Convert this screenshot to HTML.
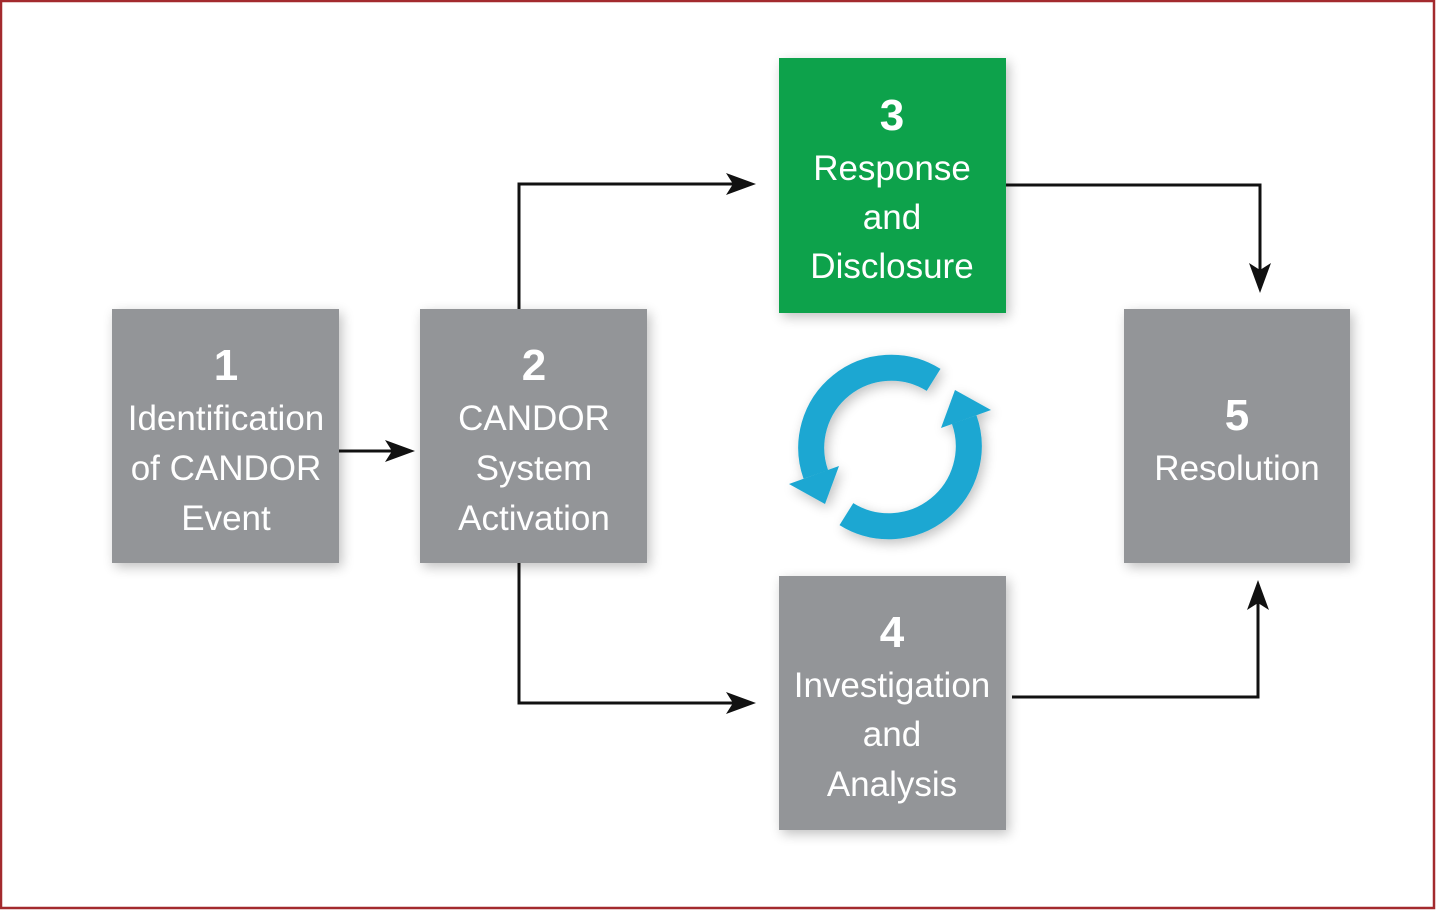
<!DOCTYPE html>
<html><head><meta charset="utf-8"><style>
body{margin:0;width:1436px;height:910px;background:#fff;overflow:hidden}
</style></head><body>
<svg width="1436" height="910" xmlns="http://www.w3.org/2000/svg" font-family="'Liberation Sans',sans-serif">
<defs>
<filter id="s" x="-20%" y="-20%" width="140%" height="140%"><feGaussianBlur in="SourceAlpha" stdDeviation="6"/><feOffset dx="3" dy="4"/><feComponentTransfer><feFuncA type="linear" slope="0.25"/></feComponentTransfer><feMerge><feMergeNode/><feMergeNode in="SourceGraphic"/></feMerge></filter>
</defs>
<rect x="1" y="1" width="1433" height="907" fill="none" stroke="#a32a2e" stroke-width="2.5"/>
<g fill="#939598" filter="url(#s)">
<rect x="112" y="309" width="227" height="254"/>
<rect x="420" y="309" width="227" height="254"/>
<rect x="779" y="58" width="227" height="255" fill="#0ba24b"/>
<rect x="779" y="576" width="227" height="254"/>
<rect x="1124" y="309" width="226" height="254"/>
</g>
<g fill="none" stroke="#111" stroke-width="3">
<path d="M339,451 H395"/>
<path d="M519,309 V184 H735"/>
<path d="M519,563 V703 H735"/>
<path d="M1006,185 H1260 V272"/>
<path d="M1012,697 H1258 V602"/>
</g>
<g fill="#111">
<path d="M415,451 L385,440 L392,451 L385,462Z"/>
<path d="M756,184 L726,173 L733,184 L726,195Z"/>
<path d="M756,703 L726,692 L733,703 L726,714Z"/>
<path d="M1260,293 L1249,263 L1260,270 L1271,263Z"/>
<path d="M1258,580 L1247,610 L1258,603 L1269,610Z"/>
</g>
<g filter="url(#s)">
<g id="h">
<path d="M933.6,379.9 A80,80 0 0 0 815.8,474.4" fill="none" stroke="#1aa7d2" stroke-width="26"/>
<path d="M839,466 L789,484 L825,504Z" fill="#1aa7d2"/>
</g>
<use href="#h" transform="rotate(180 890 447)"/>
</g>
<g fill="#fff" text-anchor="middle" font-size="35">
<text x="226" y="380" font-size="44" font-weight="bold">1</text>
<text x="226" y="430">Identification</text>
<text x="226" y="480">of CANDOR</text>
<text x="226" y="530">Event</text>
<text x="534" y="380" font-size="44" font-weight="bold">2</text>
<text x="534" y="430">CANDOR</text>
<text x="534" y="480">System</text>
<text x="534" y="530">Activation</text>
<text x="892" y="130" font-size="44" font-weight="bold">3</text>
<text x="892" y="180">Response</text>
<text x="892" y="229">and</text>
<text x="892" y="278">Disclosure</text>
<text x="892" y="647" font-size="44" font-weight="bold">4</text>
<text x="892" y="697">Investigation</text>
<text x="892" y="746">and</text>
<text x="892" y="796">Analysis</text>
<text x="1237" y="430" font-size="44" font-weight="bold">5</text>
<text x="1237" y="480">Resolution</text>
</g>
</svg>
</body></html>
